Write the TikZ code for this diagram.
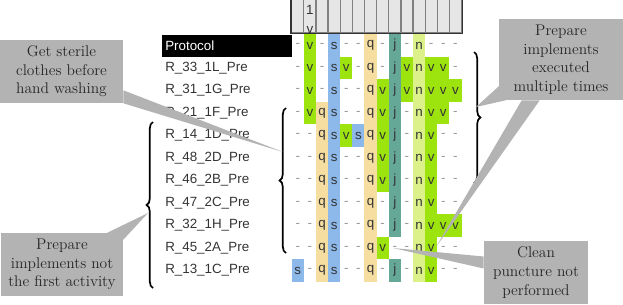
\documentclass[tikz,border=0pt]{standalone}
\usepackage{fontspec}
\setsansfont{Liberation Sans}
\usetikzlibrary{positioning,calc,decorations.pathreplacing}
\definecolor{cv}{HTML}{9DE40E}
\definecolor{cs}{HTML}{8DB8EA}
\definecolor{cq}{HTML}{F6DDA0}
\definecolor{cj}{HTML}{66A898}
\definecolor{cn}{HTML}{DDF18A}
\definecolor{hdrgray}{HTML}{E6E6E6}
\definecolor{callgray}{HTML}{B3B3B3}
\tikzset{
  mkbase/.style={rectangle,minimum width=0.303cm,minimum height=0.5625cm,
    inner sep=0pt,font=\sffamily\fontsize{9.5}{11}\selectfont,text=black!80},
  mkv/.style={mkbase,fill=cv},
  mks/.style={mkbase,fill=cs},
  mkq/.style={mkbase,fill=cq},
  mkj/.style={mkbase,fill=cj},
  mkn/.style={mkbase,fill=cn},
  mk-/.style={mkbase,text=black!40},
  hdrcell/.style={rectangle,draw=black!50,fill=hdrgray,line width=0.9pt,
    minimum width=0.303cm,minimum height=0.95cm,inner sep=0pt},
  hdrtxt/.style={inner sep=0pt,font=\sffamily\fontsize{9.5}{11}\selectfont,text=black!80},
  rowlbl/.style={anchor=west,inner sep=0pt,
    font=\sffamily\fontsize{9.5}{11}\selectfont,text=black!80},
  protobox/.style={anchor=west,xshift=-0.075cm,fill=black,text=white,
    text width=3.09cm,inner xsep=0.075cm,inner ysep=0pt,minimum height=0.55cm,
    font=\sffamily\fontsize{9.5}{11}\selectfont},
  callbox/.style={rectangle,fill=callgray,align=center,text=black!85,
    font=\fontsize{11}{13.2}\selectfont,inner sep=2pt},
  pointer/.style={fill=callgray},
  bracket/.style={decorate,decoration={brace,amplitude=0.16cm},line width=1.2pt},
}

\begin{document}
\begin{tikzpicture}[x=0.025cm,y=-0.025cm]
  \useasboundingbox (0,0) rectangle (623,304);
  % header
  \foreach \i in {1,...,14}
    \node[hdrcell] (h\i) at ({291.7+12.13*(\i-0.5)},14) {};
  \begin{scope}
    \clip (h2.north west) rectangle (h2.south east);
    \node[hdrtxt] (h2top) at (h2.center |- 0,10) {1};
    \node[hdrtxt] (h2bot) at (h2.center |- 0,30) {v};
  \end{scope}
  \draw[black!80,line width=0.9pt] (h1.north west) rectangle (h14.south east);
  % rows
  \foreach \lbl/\sty/\cells [count=\r from 0] in {
      Protocol/protobox/{-,v,-,s,-,-,q,-,j,-,n,-,-,-},
      R\_33\_1L\_Pre/rowlbl/{-,v,-,s,v,-,q,-,j,v,n,v,v,-},
      R\_31\_1G\_Pre/rowlbl/{-,v,-,s,-,-,q,v,j,v,n,v,v,v},
      R\_21\_1F\_Pre/rowlbl/{-,v,q,s,-,-,q,v,j,-,n,v,v,-},
      R\_14\_1D\_Pre/rowlbl/{-,-,q,s,v,s,q,v,j,-,n,v,-,-},
      R\_48\_2D\_Pre/rowlbl/{-,-,q,s,-,-,q,v,j,-,n,v,-,-},
      R\_46\_2B\_Pre/rowlbl/{-,-,q,s,-,-,q,v,j,-,n,v,-,-},
      R\_47\_2C\_Pre/rowlbl/{-,-,q,s,-,-,q,-,j,-,n,v,-,-},
      R\_32\_1H\_Pre/rowlbl/{-,-,q,s,-,-,q,-,j,-,n,v,v,v},
      R\_45\_2A\_Pre/rowlbl/{-,-,q,s,-,-,q,v,-,-,n,v,-,-},
      R\_13\_1C\_Pre/rowlbl/{s,-,q,s,-,-,q,-,j,-,n,v,-,-}} {
    \node[\sty] (lbl\r) at (165,{45.5+22.5*\r}) {\lbl};
    \foreach \c [count=\i] in \cells
      \node[mk\c] (c\r-\i) at ({291.7+12.13*(\i-0.5)},{45.5+22.5*\r}) {\c};
  }
  % braces
  \coordinate (rbTop) at (474,52);
  \coordinate (rbBot) at (474,183);
  \coordinate (ibTop) at (286,108);
  \coordinate (ibBot) at (286,253);
  \coordinate (obTop) at (153,122);
  \coordinate (obBot) at (153,288);
  \draw[bracket] (rbTop) -- (rbBot);
  \draw[bracket] (ibBot) -- (ibTop);
  \draw[bracket] (obBot) -- (obTop);
  % callouts
  \node[callbox,minimum width=3.075cm,minimum height=1.575cm] (sterile) at (61.5,71.5)
    {Get sterile\\clothes before\\hand washing};
  \node[callbox,minimum width=3.05cm,minimum height=1.575cm] (notfirst) at (62,264.5)
    {Prepare\\implements not\\the first activity};
  \node[callbox,minimum width=3.1cm,minimum height=2.025cm] (multi) at (561,59.5)
    {Prepare\\implements\\executed\\multiple times};
  \node[callbox,minimum width=2.6cm,minimum height=1.575cm] (puncture) at (536,272.5)
    {Clean\\puncture not\\performed};
  \coordinate (tSterile) at (283,152);
  \coordinate (tNotfirst) at (148,213);
  \coordinate (tMultiA) at (476,107);
  \coordinate (tMultiB) at (436,247);
  \coordinate (tPuncture) at (393,248);
  \fill[pointer] ([yshift=0.325cm]sterile.south east) -- (tSterile) -- (sterile.south east) -- cycle;
  \fill[pointer] ([xshift=-0.4cm]notfirst.north east) -- (tNotfirst) -- ([yshift=-0.175cm]notfirst.north east) -- cycle;
  \fill[pointer] ([yshift=0.35cm]multi.south west) -- (tMultiA) -- ([xshift=0.175cm]multi.south west) -- cycle;
  \fill[pointer] ([xshift=0.575cm]multi.south west) -- (tMultiB) -- ([xshift=1.025cm]multi.south west) -- cycle;
  \fill[pointer] ([yshift=0.4cm]puncture.west) -- (tPuncture) -- ([yshift=0.1cm]puncture.west) -- cycle;
\end{tikzpicture}
\end{document}
